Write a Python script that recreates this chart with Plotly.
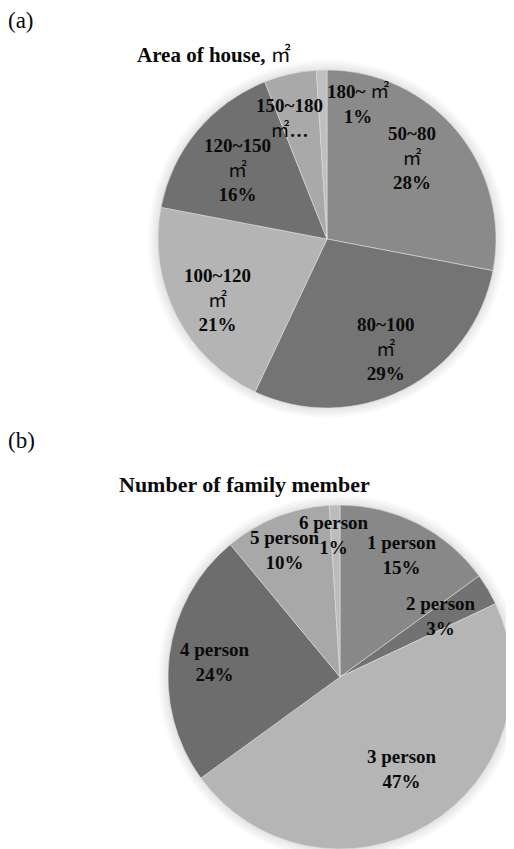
"""
Survey pie charts: (a) area of house, (b) number of family members
"""
import plotly.graph_objects as go

W, H = 514, 849
OFF = 8  # page body margin

SQM = ('<span style="font-family:\'Noto Sans CJK KR\';font-weight:normal;'
       'font-size:19px">㎡</span>')

# (a) area of house
area_labels = ['50~80 ㎡', '80~100 ㎡', '100~120 ㎡', '120~150 ㎡', '150~180 ㎡', '180~ ㎡']
area_values = [28, 29, 21, 16, 5, 1]
area_text = ['50~80<br>{m}<br>28%', '80~100<br>{m}<br>29%', '100~120<br>{m}<br>21%',
             '120~150<br>{m}<br>16%', '150~180<br>{m}…', '180~ {m}<br>1%']
area_colors = ['#8a8a8a', '#747474', '#b4b4b4', '#707070', '#a9a9a9', '#bfbfbf']

# (b) family members
family_labels = ['1 person', '2 person', '3 person', '4 person', '5 person', '6 person']
family_values = [15, 3, 47, 24, 10, 1]
family_text = ['1 person<br>15%', '2 person<br>3%', '3 person<br>47%',
               '4 person<br>24%', '5 person<br>10%', '6 person<br>1%']
family_colors = ['#888888', '#727272', '#b5b5b5', '#6d6d6d', '#a8a8a8', '#bcbcbc']

# label centres in reference pixels
area_pos = [(412, 158), (385, 349), (217, 300), (237, 170), (289, 118), (358, 101)]
family_pos = [(402, 555), (441, 616), (402, 769), (215, 662), (285, 550), (334, 535)]

# pie boxes in reference pixels: left, right, top, bottom
area_box = (158, 496, 70, 408)
family_box = (168, 512, 505, 849)

FONT = 'Liberation Serif, Times New Roman, serif'


def px(x, y):
    return (x - OFF) / W, 1 - (y - OFF) / H


def domain(box):
    l, r, t, b = box
    x0, y1 = px(l, t)
    x1, y0 = px(r, b)
    return dict(x=[x0, x1], y=[max(y0, 0), y1])


fig = go.Figure()

# soft shadow behind each pie
shapes = []
for l, r, t, b in [area_box, family_box]:
    for grow in [10, 8, 6, 4, 2]:
        x0, y1 = px(l - grow, t - grow)
        x1, y0 = px(r + grow, b + grow)
        shapes.append(dict(type='circle', xref='paper', yref='paper',
                           x0=x0, x1=x1, y0=y0, y1=y1, layer='below',
                           fillcolor='rgba(0,0,0,0.018)', line=dict(width=0)))

fig.add_trace(go.Pie(
    labels=area_labels, values=area_values,
    sort=False, direction='clockwise', rotation=0,
    marker=dict(colors=area_colors, line=dict(color='#dddddd', width=0.6)),
    textinfo='none', hoverinfo='label+percent', showlegend=False,
    domain=domain(area_box),
))

fig.add_trace(go.Pie(
    labels=family_labels, values=family_values,
    sort=False, direction='clockwise', rotation=0,
    marker=dict(colors=family_colors, line=dict(color='#dddddd', width=0.6)),
    textinfo='none', hoverinfo='label+percent', showlegend=False,
    domain=domain(family_box),
))

annotations = []
for txt, (x, y) in zip(area_text + family_text, area_pos + family_pos):
    ax, ay = px(x, y)
    annotations.append(dict(
        x=ax, y=ay, xref='paper', yref='paper', text=txt.replace('{m}', SQM),
        showarrow=False, xanchor='center', yanchor='middle', align='center',
        font=dict(family=FONT, size=19, color='#0a0a0a', weight='bold'),
    ))

# panel tags and titles
for txt, (x, y), size, weight in [
    ('(a)', (21, 21), 23, 'normal'),
    ('(b)', (21, 441), 23, 'normal'),
    ('Area of house, ' + SQM.replace('19px', '20px'), (214, 53), 21, 'bold'),
    ('Number of family member', (244, 484), 22, 'bold'),
]:
    ax, ay = px(x, y)
    annotations.append(dict(
        x=ax, y=ay, xref='paper', yref='paper', text=txt, showarrow=False,
        xanchor='center', yanchor='middle',
        font=dict(family=FONT, size=size, color='#0a0a0a', weight=weight),
    ))

fig.update_layout(
    width=W, height=H,
    margin=dict(l=0, r=0, t=0, b=0),
    paper_bgcolor='white', plot_bgcolor='white',
    annotations=annotations, shapes=shapes,
)

fig.write_html("out.html")
